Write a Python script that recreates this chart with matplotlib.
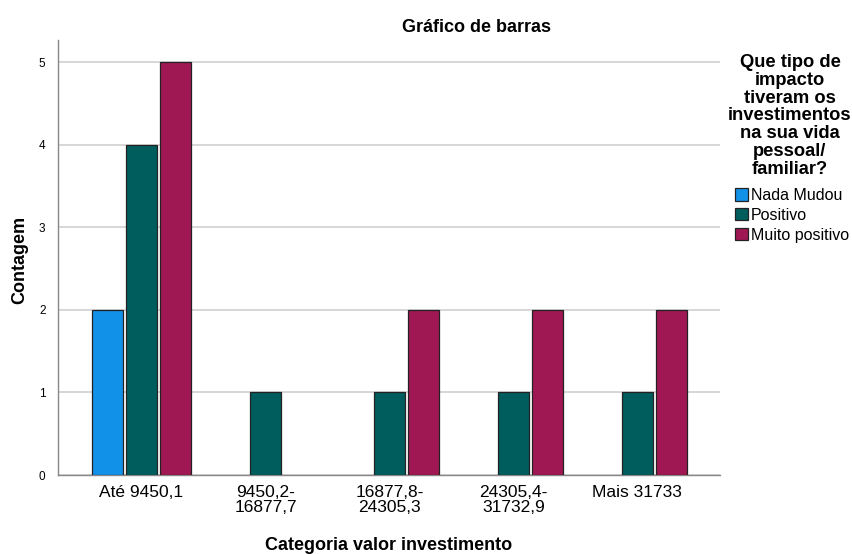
import matplotlib
matplotlib.use("Agg")
import matplotlib.pyplot as plt
import numpy as np
from matplotlib.patches import Patch

plt.rcParams['font.family'] = ['Liberation Sans', 'DejaVu Sans']

categories = ["Até 9450,1", "9450,2-\n16877,7", "16877,8-\n24305,3", "24305,4-\n31732,9", "Mais 31733"]
series_names = ["Nada Mudou", "Positivo", "Muito positivo"]
nada_mudou = [2, 0, 0, 0, 0]
positivo = [4, 1, 1, 1, 1]
muito_positivo = [5, 0, 2, 2, 2]
colors = ["#1192e8", "#005d5d", "#9f1853"]
yticks = [0, 1, 2, 3, 4, 5]

fig = plt.figure(figsize=(8.53, 5.54), dpi=100)
W, H = 853, 554
ax = fig.add_axes([58 / W, 1 - 475 / H, (720 - 58) / W, (475 - 40) / H])

x = np.arange(len(categories))
width = 0.25
step = 0.274
for i, (vals, c) in enumerate(zip([nada_mudou, positivo, muito_positivo], colors)):
    xs = x + (i - 1) * step
    for xi, v in zip(xs, vals):
        if v > 0:
            ax.bar(xi, v, width=width, color=c, edgecolor="#222222", linewidth=0.9, zorder=3)

ax.set_xlim(-0.673, 4.666)
ax.set_ylim(0, 5.27)
ax.set_yticks(yticks)
ax.set_yticklabels([str(t) for t in yticks], fontsize=8.5)
ax.set_xticks(x)
ax.set_xticklabels(categories, fontsize=12.5, linespacing=1.0)
ax.tick_params(axis='x', length=0, pad=7)
ax.tick_params(axis='y', length=0, pad=9)
ax.yaxis.grid(True, color="#d0d0d0", linewidth=1.2, zorder=0)
ax.set_axisbelow(True)
for s in ["top", "right"]:
    ax.spines[s].set_visible(False)
for s in ["left", "bottom"]:
    ax.spines[s].set_color("#888888")
    ax.spines[s].set_linewidth(1.0)

fig.text(20 / W, 1 - 260 / H, "Contagem", fontsize=13, fontweight="bold",
         ha="center", va="center", rotation=90)
fig.text(389 / W, 1 - 545 / H, "Categoria valor investimento", fontsize=13,
         fontweight="bold", ha="center", va="center")
fig.text(477 / W, 1 - 27 / H, "Gráfico de barras", fontsize=13,
         fontweight="bold", ha="center", va="center")

fig.text(790 / W, 1 - 116 / H,
         "Que tipo de\nimpacto\ntiveram os\ninvestimentos\nna sua vida\npessoal/\nfamiliar?",
         fontsize=13.2, fontweight="bold", ha="center", va="center", linespacing=1.06)

handles = [Patch(facecolor=c, edgecolor="#222222", linewidth=0.9) for c in colors]
leg = fig.legend(handles, series_names, loc="upper left",
                 bbox_to_anchor=(735 / W, 1 - 188 / H), frameon=False,
                 fontsize=11.5, handlelength=0.8, handleheight=0.8,
                 handletextpad=0.2, labelspacing=0.3, borderpad=0, borderaxespad=0)

fig.savefig("out.png", dpi=100)
